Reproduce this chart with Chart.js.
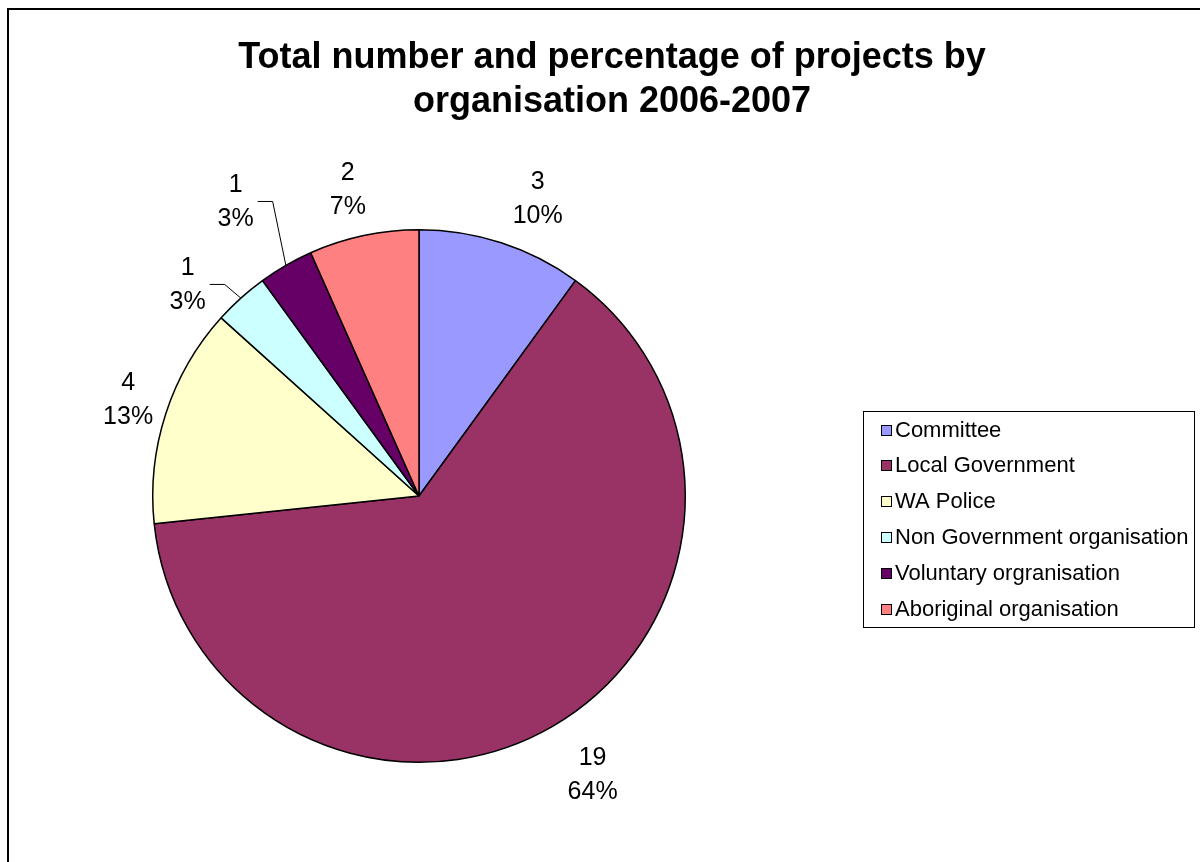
<!DOCTYPE html>
<html>
<head>
<meta charset="utf-8">
<script src="https://cdn.jsdelivr.net/npm/chart.js@4/dist/chart.umd.min.js"></script>
<style>
  html, body { margin: 0; padding: 0; background: #fff; }
  canvas { display: block; }
</style>
</head>
<body>
<canvas id="orgPie" width="1200" height="862"></canvas>
<script>
// data
var categories = ["Committee", "Local Government", "WA Police", "Non Government organisation", "Voluntary orgranisation", "Aboriginal organisation"];
var projectCounts = [3, 19, 4, 1, 1, 2];
var percentLabels = ["10%", "64%", "13%", "3%", "3%", "7%"];
var sliceColours = ["#9999FF", "#993366", "#FFFFCC", "#CCFFFF", "#660066", "#FF8080"];
var titleLines = ["Total number and percentage of projects by", "organisation 2006-2007"];

// where the data labels sit round the pie (angle nudge in degrees, distance as share of radius)
var labelShift = [3.8, -1.9, 0.2, -5.7, -2, -1.1];
var labelDist = [1.2, 1.234, 1.15, 1.175, 1.3, 1.18];
var labelLeader = [false, false, false, true, true, false];

var FONT = "'Liberation Sans', Arial, sans-serif";

var framePlugin = {
    id: 'frame',
    beforeDraw: function(chart) {
        var c = chart.ctx;
        c.save();
        c.fillStyle = '#fff';
        c.fillRect(0, 0, chart.width, chart.height);
        c.strokeStyle = '#000';
        c.lineWidth = 2;
        c.strokeRect(8, 9, chart.width + 20, chart.height + 20);
        c.restore();
    },
    afterDraw: function(chart) {
        var c = chart.ctx;
        c.save();
        c.fillStyle = '#000';
        c.textAlign = 'center';
        c.textBaseline = 'middle';
        c.font = 'bold 36px ' + FONT;
        c.fillText(titleLines[0], 612, 58);
        c.fillText(titleLines[1], 612, 102);

        // legend
        c.strokeStyle = '#000';
        c.lineWidth = 1;
        c.strokeRect(863.5, 411.5, 331, 216);
        c.font = '22px ' + FONT;
        c.textAlign = 'left';
        for (var i = 0; i < chart.data.labels.length; i++) {
            var y = 429.5 + i * 35.8;
            c.fillStyle = sliceColours[i];
            c.fillRect(881, Math.round(y - 5), 10, 10);
            c.strokeRect(881.5, Math.round(y - 5) + 0.5, 10, 10);
            c.fillStyle = '#000';
            c.fillText(chart.data.labels[i], 895, y + 1);
        }
        c.restore();
    }
};

var labelPlugin = {
    id: 'sliceLabels',
    afterDatasetsDraw: function(chart) {
        var c = chart.ctx;
        var arcs = chart.getDatasetMeta(0).data;
        c.save();
        c.font = '25px ' + FONT;
        c.fillStyle = '#000';
        c.textAlign = 'center';
        c.textBaseline = 'middle';
        arcs.forEach(function(arc, i) {
            var p = arc.getProps(['x', 'y', 'startAngle', 'endAngle', 'outerRadius'], true);
            var mid = (p.startAngle + p.endAngle) / 2;
            var a = mid + labelShift[i] * Math.PI / 180;
            var lx = p.x + Math.cos(a) * p.outerRadius * labelDist[i];
            var ly = p.y + Math.sin(a) * p.outerRadius * labelDist[i];
            var top = String(projectCounts[i]);
            var bottom = percentLabels[i];
            c.fillText(top, lx, ly - 17);
            c.fillText(bottom, lx, ly + 17);
            if (labelLeader[i]) {
                var w = Math.max(c.measureText(top).width, c.measureText(bottom).width);
                var sx = lx + w / 2 + 4;
                var ex = p.x + Math.cos(mid) * p.outerRadius;
                var ey = p.y + Math.sin(mid) * p.outerRadius;
                c.beginPath();
                c.strokeStyle = '#000';
                c.lineWidth = 1;
                c.moveTo(sx, ly - 1);
                c.lineTo(sx + 15, ly - 1);
                c.lineTo(ex, ey);
                c.stroke();
            }
        });
        c.restore();
    }
};

try {
    var ctx = document.getElementById("orgPie");
    if (ctx) {
        var myChart = new Chart(ctx, {
            type: 'pie',
            data: {
                labels: categories,
                datasets: [{
                    data: projectCounts,
                    backgroundColor: sliceColours,
                    borderColor: '#000',
                    borderWidth: 1.5
                }]
            },
            options: {
                responsive: false,
                animation: false,
                devicePixelRatio: 1,
                layout: {
                    padding: { left: 152, right: 514, top: 229, bottom: 99 }
                },
                plugins: {
                    legend: { display: false },
                    title: { display: false },
                    tooltip: { enabled: false }
                }
            },
            plugins: [framePlugin, labelPlugin]
        });
    }
} catch (error) {
    console.log(error);
}
</script>
</body>
</html>
